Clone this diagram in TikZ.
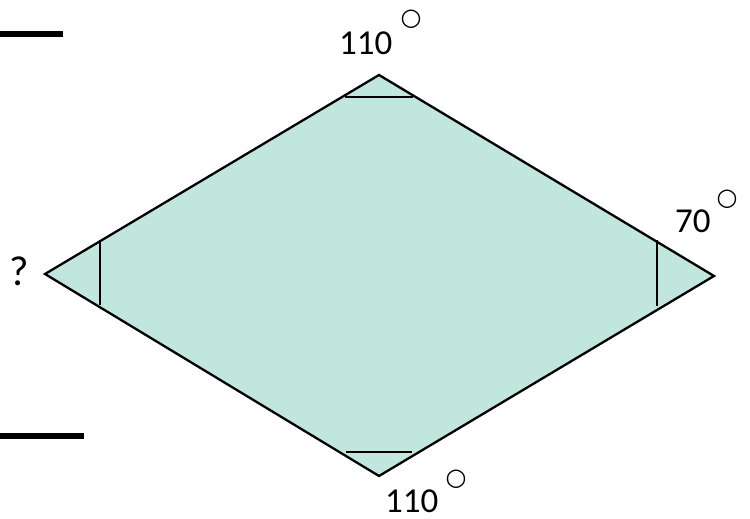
\documentclass[tikz,border=0pt]{standalone}
\usepackage{fontspec}
\setmainfont{Carlito}
\newfontfamily\symfont{DejaVu Sans}
\definecolor{fillteal}{RGB}{193,230,222}
\begin{document}
\begin{tikzpicture}[x=1pt,y=1pt,
  edge/.style={draw=black,line width=2.3pt,line join=miter},
  tick/.style={draw=black,line width=2.3pt},
  bar/.style={draw=black,line width=5.5pt},
  lbl/.style={font=\fontsize{35}{38}\selectfont,inner sep=0pt},
  deg/.style={font=\symfont\bfseries\fontsize{24}{25}\selectfont,inner sep=0pt,anchor=center}]
\useasboundingbox (0,0) rectangle (750,519);
\coordinate (T) at (379,444);
\coordinate (R) at (714,243);
\coordinate (B) at (379,43);
\coordinate (L) at (45,245);
\fill[fillteal] (T) -- (R) -- (B) -- (L) -- cycle;
\draw[edge] (T) -- (R) -- (B) -- (L) -- cycle;
% angle ticks
\coordinate (t1) at (345,422); \coordinate (t2) at (413,422);
\draw[tick] (t1) -- (t2);
\coordinate (b1) at (346,67); \coordinate (b2) at (412,67);
\draw[tick] (b1) -- (b2);
\coordinate (r1) at (657,279); \coordinate (r2) at (657,213);
\draw[tick] (r1) -- (r2);
\coordinate (l1) at (100,279); \coordinate (l2) at (100,214);
\draw[tick] (l1) -- (l2);
% bars
\coordinate (a1) at (0,485); \coordinate (a2) at (63,485);
\draw[bar] (a1) -- (a2);
\coordinate (c1) at (0,83); \coordinate (c2) at (84,83);
\draw[bar] (c1) -- (c2);
% labels
\node[lbl,anchor=base west] (ltop) at (339,464) {110};
\node[deg] (dtop) at (411,500) {○};
\node[lbl,anchor=base west] (lright) at (675,286) {70};
\node[deg] (dright) at (727,320) {○};
\node[lbl,anchor=base west] (lbot) at (385,6) {110};
\node[deg] (dbot) at (456,40) {○};
\node[lbl,font=\fontsize{42}{44}\selectfont,anchor=base west] (lq) at (9,233) {?};
\end{tikzpicture}
\end{document}
